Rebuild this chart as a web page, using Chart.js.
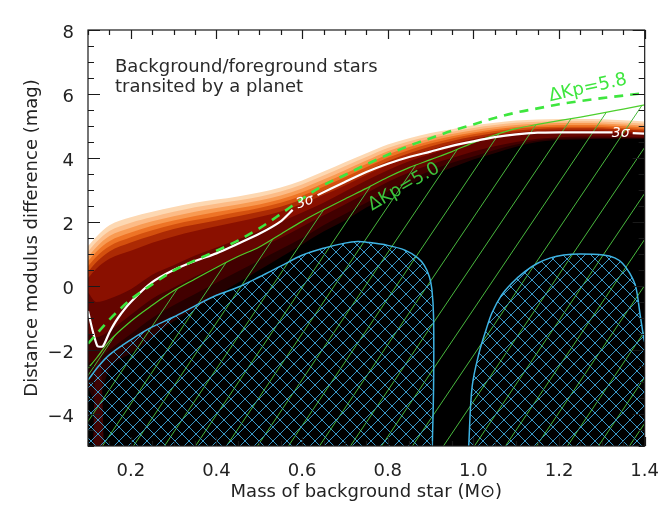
<!DOCTYPE html>
<html><head><meta charset="utf-8">
<script src="https://cdn.jsdelivr.net/npm/chart.js@4.4.1/dist/chart.umd.min.js"></script>
<style>
html,body{margin:0;padding:0;background:#fff;overflow:hidden;width:666px;height:514px}
#c{position:absolute;left:0;top:0}
</style>
</head><body>
<canvas id="c" width="666" height="514"></canvas>
<script>
// ---------------- data ----------------
const massGrid = [0.10,0.12,0.15,0.20,0.25,0.30,0.35,0.40,0.45,0.50,0.55,0.60,0.65,0.70,0.75,0.80,0.85,0.90,0.95,1.00,1.05,1.10,1.15,1.20,1.25,1.30,1.35,1.40];

// filled probability contours: upper edge of each level (mag)
const contourLevel1 = [1.25,1.55,1.90,2.15,2.32,2.47,2.60,2.70,2.80,2.92,3.08,3.30,3.58,3.87,4.15,4.42,4.62,4.78,4.90,5.02,5.10,5.17,5.20,5.22,5.22,5.21,5.18,5.14];
const contourLevel2 = [1.08,1.38,1.72,1.98,2.16,2.32,2.46,2.57,2.67,2.79,2.95,3.17,3.45,3.74,4.03,4.31,4.52,4.69,4.82,4.94,5.03,5.10,5.13,5.15,5.15,5.14,5.11,5.07];
const contourLevel3 = [0.92,1.22,1.56,1.82,2.02,2.18,2.32,2.44,2.55,2.67,2.83,3.05,3.33,3.62,3.92,4.21,4.43,4.61,4.75,4.87,4.96,5.03,5.07,5.09,5.09,5.08,5.05,5.01];
const contourLevel4 = [0.78,1.08,1.40,1.67,1.88,2.05,2.19,2.31,2.43,2.55,2.71,2.93,3.21,3.51,3.81,4.11,4.34,4.53,4.68,4.80,4.90,4.97,5.01,5.03,5.03,5.02,4.99,4.95];
const contourLevel5 = [0.62,0.92,1.24,1.52,1.74,1.92,2.06,2.18,2.31,2.44,2.60,2.82,3.10,3.40,3.71,4.01,4.25,4.45,4.61,4.74,4.84,4.92,4.96,4.98,4.98,4.97,4.94,4.90];
const contourLevel6 = [0.45,0.75,1.08,1.36,1.58,1.78,1.92,2.05,2.18,2.32,2.48,2.70,2.98,3.28,3.60,3.90,4.15,4.36,4.53,4.67,4.78,4.86,4.91,4.93,4.93,4.92,4.89,4.85];
const contourLevel7 = [0.25,0.55,0.85,1.10,1.35,1.55,1.72,1.87,2.01,2.16,2.33,2.56,2.84,3.14,3.47,3.78,4.04,4.26,4.44,4.59,4.71,4.80,4.85,4.87,4.87,4.86,4.83,4.80];
const contourLevel8 = [-0.20,-0.50,-0.40,-0.10,0.35,0.65,0.95,1.20,1.45,1.72,2.00,2.30,2.60,2.95,3.30,3.62,3.90,4.12,4.32,4.48,4.62,4.72,4.78,4.80,4.80,4.79,4.77,4.74];
const contourLevel9 = [-1.50,-1.60,-1.40,-0.90,-0.40,-0.05,0.30,0.60,0.90,1.20,1.50,1.85,2.20,2.55,2.90,3.25,3.55,3.80,4.00,4.20,4.37,4.50,4.60,4.65,4.67,4.67,4.66,4.64];
const contourLevel10 = [-2.40,-2.30,-2.00,-1.50,-1.00,-0.60,-0.25,0.10,0.45,0.80,1.15,1.50,1.90,2.25,2.60,2.95,3.30,3.60,3.85,4.05,4.25,4.42,4.55,4.60,4.62,4.62,4.62,4.62];
const contourCore = [-3.20,-3.60,-2.60,-2.10,-1.60,-1.10,-0.70,-0.30,0.10,0.50,0.90,1.30,1.70,2.05,2.45,2.80,3.15,3.45,3.70,3.95,4.15,4.35,4.50,4.56,4.58,4.60,4.60,4.60];

// narrow dark-red tongue near the low-mass edge
const tongueMass = [0.112,0.118,0.124,0.130,0.137];
const tongueDm   = [-5,-2.2,-1.9,-2.3,-5];

// 3-sigma contour (white), gaps where the "3σ" labels sit
const sigmaMass = [0.100,0.110,0.122,0.135,0.150,0.170,0.200,0.250,0.300,0.350,0.400,0.450,0.500,0.550,0.578,0.600,0.636,0.700,0.750,0.800,0.850,0.900,0.950,1.000,1.050,1.100,1.150,1.200,1.250,1.300,1.325,1.345,1.372,1.400];
const sigmaDm   = [-0.78,-1.35,-1.88,-1.88,-1.45,-1.00,-0.50,0.12,0.50,0.78,1.02,1.32,1.63,2.02,2.38,null,2.84,3.25,3.56,3.82,4.03,4.20,4.38,4.52,4.65,4.74,4.79,4.80,4.80,4.80,4.80,null,4.78,4.76];

// ΔKp = 5.8 (dashed) and ΔKp = 5.0 (solid, hatched below)
const kp58Dm = [-1.80,-1.50,-1.05,-0.42,0.05,0.48,0.80,1.10,1.42,1.80,2.25,2.72,3.15,3.47,3.80,4.10,4.38,4.62,4.85,5.05,5.25,5.42,5.55,5.68,5.78,5.87,5.95,6.03];
const kp50Dm = [-2.57,-2.25,-1.72,-1.10,-0.60,-0.15,0.22,0.58,0.92,1.22,1.62,2.02,2.38,2.72,3.05,3.40,3.70,3.95,4.20,4.48,4.72,4.92,5.05,5.17,5.28,5.40,5.53,5.66];

// excluded regions (blue cross-hatched)
const lobeAMass = [0.100,0.125,0.150,0.200,0.250,0.300,0.350,0.400,0.450,0.500,0.550,0.600,0.650,0.700,0.730,0.750,0.800,0.840,0.870,0.885,0.897,0.903,0.907,0.907,0.904];
const lobeADm   = [-2.94,-2.50,-2.15,-1.68,-1.28,-0.97,-0.62,-0.29,-0.04,0.28,0.62,0.96,1.18,1.34,1.39,1.37,1.27,1.12,0.88,0.65,0.30,-0.10,-0.96,-3.15,-5.00];
const lobeBMass = [0.989,0.997,1.013,1.030,1.043,1.065,1.089,1.120,1.150,1.180,1.211,1.250,1.303,1.330,1.348,1.365,1.379,1.390,1.398,1.400];
const lobeBDm   = [-5.00,-3.15,-2.10,-1.35,-0.85,-0.30,0.08,0.45,0.71,0.88,0.97,1.00,0.97,0.88,0.71,0.40,-0.02,-0.96,-1.64,-1.75];

// axes
const xTickValues = [0.2,0.4,0.6,0.8,1.0,1.2,1.4];
const yTickValues = [-4,-2,0,2,4,6,8];

// ---------------- helpers ----------------
const pts = (xs, ys) => xs.map((x, i) => ({x: x, y: ys[i]}));
const canvas = document.getElementById('c');
const ctx0 = canvas.getContext('2d');

function hatch(w, h, color, dirs) {
  const c = document.createElement('canvas');
  c.width = w; c.height = h;
  const g = c.getContext('2d');
  g.strokeStyle = color; g.lineWidth = 1;
  g.beginPath();
  for (const k of [-1, 0, 1]) {
    if (dirs.includes('/')) { g.moveTo(k*w, h); g.lineTo(k*w + w, 0); }
    if (dirs.includes('\\')) { g.moveTo(k*w, 0); g.lineTo(k*w + w, h); }
  }
  g.stroke();
  return ctx0.createPattern(c, 'repeat');
}
const greenHatch = hatch(31, 46, '#48b83e', '/');
const blueHatch = hatch(14, 14, '#3a96c6', '/\\');

const bandColors = ['#fdd8b2','#fcbb86','#f89a52','#ee7426','#d4500e','#ac2a04','#8a1000','#650500','#420000','#250000','#000000'];
const bandData = [contourLevel1,contourLevel2,contourLevel3,contourLevel4,contourLevel5,contourLevel6,contourLevel7,contourLevel8,contourLevel9,contourLevel10,contourCore];

const datasets = [];
bandData.forEach((arr, i) => {
  datasets.push({
    data: pts(massGrid, arr), fill: 'start', backgroundColor: bandColors[i],
    borderWidth: 0, pointRadius: 0, cubicInterpolationMode: 'monotone', order: 200 - i
  });
});
datasets.push({data: pts(tongueMass, tongueDm), fill: 'start', backgroundColor: '#3f0303', borderWidth: 0, pointRadius: 0, tension: 0.3, order: 150});
datasets.push({data: pts(massGrid, kp50Dm), fill: 'start', backgroundColor: greenHatch, borderColor: '#4ccf2c', borderWidth: 1.2, pointRadius: 0, cubicInterpolationMode: 'monotone', order: 60});
datasets.push({data: pts(lobeAMass, lobeADm), fill: 'start', backgroundColor: blueHatch, borderColor: '#3fb4e4', borderWidth: 1.5, pointRadius: 0, tension: 0.35, order: 50});
datasets.push({data: pts(lobeBMass, lobeBDm), fill: 'start', backgroundColor: blueHatch, borderColor: '#3fb4e4', borderWidth: 1.5, pointRadius: 0, tension: 0.35, order: 49});
datasets.push({data: pts(sigmaMass, sigmaDm), fill: false, borderColor: '#ffffff', borderWidth: 2.2, pointRadius: 0, tension: 0.2, spanGaps: false, order: 20});
datasets.push({data: pts(massGrid, kp58Dm), fill: false, borderColor: '#3ee63e', borderWidth: 2.6, borderDash: [9, 7], pointRadius: 0, cubicInterpolationMode: 'monotone', order: 10});

const FONT = 'DejaVu Sans';

const framePlugin = {
  id: 'frame',
  beforeDraw(chart) {
    const c = chart.ctx;
    c.save(); c.fillStyle = '#ffffff'; c.fillRect(0, 0, chart.width, chart.height); c.restore();
  },
  afterDatasetsDraw(chart) {
    const c = chart.ctx, xs = chart.scales.x, ys = chart.scales.y, a = chart.chartArea;
    c.save();
    c.fillStyle = '#2a2a2a';
    c.font = '18px "' + FONT + '"';
    c.textBaseline = 'middle';
    c.fillText('Background/foreground stars', 115, 67);
    c.fillText('transited by a planet', 115, 87);

    c.fillStyle = '#3ee63e';
    c.save(); c.translate(588, 88); c.rotate(-12.5 * Math.PI / 180);
    c.textAlign = 'center'; c.fillText('\u0394Kp=5.8', 0, 0); c.restore();

    c.fillStyle = '#3cc43c';
    c.save(); c.translate(404, 187); c.rotate(-30 * Math.PI / 180);
    c.textAlign = 'center'; c.fillText('\u0394Kp=5.0', 0, 0); c.restore();

    c.fillStyle = '#ffffff';
    c.font = 'italic 14px "' + FONT + '"';
    c.save(); c.translate(xs.getPixelForValue(0.607), ys.getPixelForValue(2.62)); c.rotate(-20 * Math.PI / 180);
    c.textAlign = 'center'; c.fillText('3\u03c3', 0, 0); c.restore();
    c.save(); c.translate(xs.getPixelForValue(1.344), ys.getPixelForValue(4.78));
    c.textAlign = 'center'; c.fillText('3\u03c3', 0, 0); c.restore();

    c.strokeStyle = '#1a1a1a'; c.lineWidth = 1.2;
    c.strokeRect(a.left, a.top, a.right - a.left, a.bottom - a.top);
    c.beginPath();
    for (let v = 0.10; v <= 1.4001; v += 0.05) {
      const p = Math.round(xs.getPixelForValue(v)) + 0.5;
      const major = Math.abs(v * 5 - Math.round(v * 5)) < 1e-6;
      const L = major ? 9 : 5;
      c.moveTo(p, a.bottom); c.lineTo(p, a.bottom - L);
      c.moveTo(p, a.top); c.lineTo(p, a.top + L);
    }
    for (let v = -5; v <= 8.001; v += 0.5) {
      const p = Math.round(ys.getPixelForValue(v)) + 0.5;
      const major = Math.abs(v / 2 - Math.round(v / 2)) < 1e-6;
      const L = major ? 12 : 6;
      c.moveTo(a.left, p); c.lineTo(a.left + L, p);
      c.moveTo(a.right, p); c.lineTo(a.right - L, p);
    }
    c.stroke();
    c.restore();
  }
};

new Chart(ctx0, {
  type: 'line',
  data: {datasets: datasets},
  plugins: [framePlugin],
  options: {
    responsive: false,
    animation: false,
    events: [],
    layout: {padding: {top: 30, right: 10, left: 0, bottom: 0}},
    plugins: {legend: {display: false}, tooltip: {enabled: false}},
    scales: {
      x: {
        type: 'linear', min: 0.1, max: 1.4,
        grid: {display: false}, border: {display: false},
        afterFit(s) { s.height = 68; },
        afterBuildTicks(s) { s.ticks = xTickValues.map(v => ({value: v})); },
        ticks: {padding: 7, color: '#222', font: {family: FONT, size: 18}, maxRotation: 0, autoSkip: false,
          callback: v => Number(v).toFixed(1)},
        title: {display: true, text: 'Mass of background star (M\u2299)', color: '#222',
          font: {family: FONT, size: 18}, padding: {top: 0, bottom: 11}}
      },
      y: {
        type: 'linear', min: -5, max: 8,
        grid: {display: false}, border: {display: false},
        afterFit(s) { s.width = 88; },
        afterBuildTicks(s) { s.ticks = yTickValues.map(v => ({value: v})); },
        ticks: {padding: 6, labelOffset: 3, color: '#222', font: {family: FONT, size: 18}, autoSkip: false,
          callback: v => (v < 0 ? '\u2212' + Math.abs(v) : String(v))},
        title: {display: true, text: 'Distance modulus difference (mag)', color: '#222',
          font: {family: FONT, size: 18}, padding: {top: 22, bottom: 0}}
      }
    }
  }
});
</script>
</body></html>
